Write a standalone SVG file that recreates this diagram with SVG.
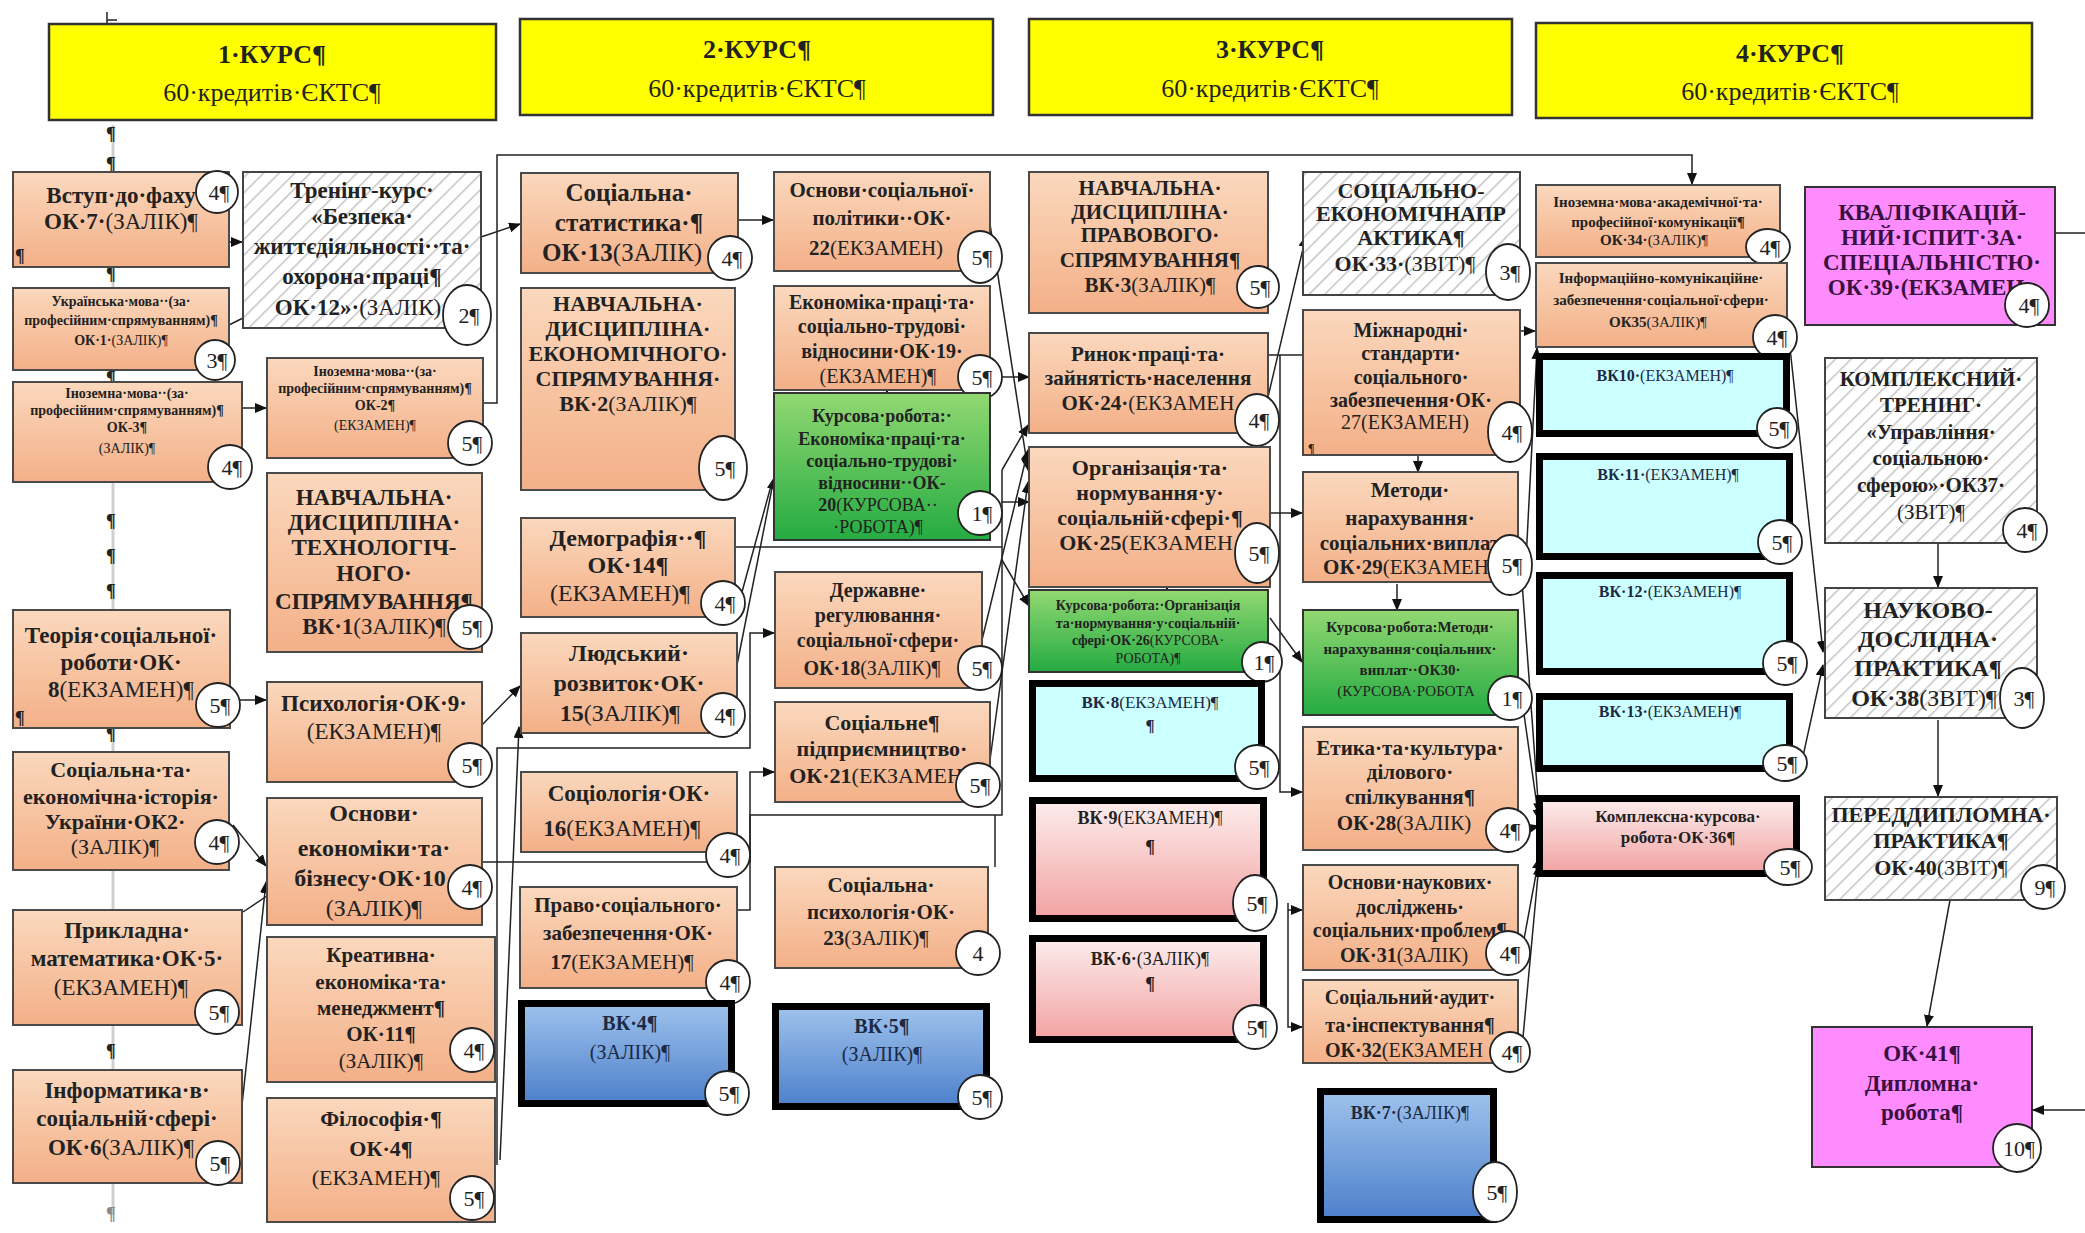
<svg xmlns="http://www.w3.org/2000/svg" width="2085" height="1233" viewBox="0 0 2085 1233">
<defs>
<linearGradient id="gOr" x1="0" y1="0" x2="0" y2="1"><stop offset="0" stop-color="#FBD8BD"/><stop offset="1" stop-color="#F3B088"/></linearGradient>
<linearGradient id="gGr" x1="0" y1="0" x2="0" y2="1"><stop offset="0" stop-color="#92D872"/><stop offset="1" stop-color="#25AB42"/></linearGradient>
<linearGradient id="gPk" x1="0" y1="0" x2="0" y2="1"><stop offset="0" stop-color="#FDEDED"/><stop offset="1" stop-color="#F2A2A2"/></linearGradient>
<linearGradient id="gBl" x1="0" y1="0" x2="0" y2="1"><stop offset="0" stop-color="#9EC2EC"/><stop offset="1" stop-color="#4D80CB"/></linearGradient>
<pattern id="hatch" patternUnits="userSpaceOnUse" width="11" height="11" patternTransform="rotate(45)">
<rect width="11" height="11" fill="#ffffff"/><line x1="0" y1="0" x2="0" y2="11" stroke="#C4C4C4" stroke-width="3"/></pattern>
<marker id="ah" markerUnits="userSpaceOnUse" markerWidth="12" markerHeight="10" refX="11" refY="5" orient="auto"><path d="M0,0 L12,5 L0,10 z" fill="#111"/></marker>
<marker id="ao" markerUnits="userSpaceOnUse" markerWidth="14" markerHeight="12" refX="13" refY="6" orient="auto"><path d="M0,0 L13,6 L0,12" fill="none" stroke="#111" stroke-width="1.5"/></marker>
<style>
text{font-family:"Liberation Serif","Times New Roman",serif;fill:#222}
.b{font-weight:bold;text-anchor:middle}
.m{text-anchor:middle}
.n{font-weight:normal}
.cn{font-size:22px;text-anchor:middle}
.pm{font-size:18px;font-weight:bold}
.hd{fill:#FFFF00;stroke:#333;stroke-width:2.5}
.or{fill:url(#gOr);stroke:#4a4a4a;stroke-width:2}
.ht{fill:url(#hatch);stroke:#444;stroke-width:2}
.gr{fill:url(#gGr);stroke:#333;stroke-width:2}
.cy{fill:#CCFFFF;stroke:#000;stroke-width:7}
.pk{fill:url(#gPk);stroke:#000;stroke-width:7}
.bl{fill:url(#gBl);stroke:#000;stroke-width:7}
.mg{fill:#FF8CFF;stroke:#333;stroke-width:2}
.mt{fill:#3a1040}
.dk{fill:#1d2a44}
.c{fill:#fff;stroke:#222;stroke-width:1.8}
.con{fill:none;stroke:#222;stroke-width:1.5}
.ar{marker-end:url(#ah)}
</style>
</defs>
<rect width="2085" height="1233" fill="#ffffff"/>

<g id="margin">
<line x1="113" y1="125" x2="113" y2="1215" stroke="#cfcfcf" stroke-width="3"/>
<line x1="107" y1="12" x2="107" y2="45" stroke="#222" stroke-width="1.5"/>
<line x1="107" y1="20" x2="117" y2="20" stroke="#222" stroke-width="1.5"/>
<text class="pm" x="106" y="140">¶</text>
<text class="pm" x="106" y="170">¶</text>
<text class="pm" x="106" y="280">¶</text>
<text class="pm" x="106" y="384">¶</text>
<text class="pm" x="106" y="527">¶</text>
<text class="pm" x="106" y="562">¶</text>
<text class="pm" x="106" y="597">¶</text>
<text class="pm" x="106" y="740">¶</text>
<text class="pm" x="106" y="1057">¶</text>
<text class="pm" x="106" y="1220" style="fill:#888">¶</text>
</g>

<g id="headers">
<g id="h1"><rect class="hd" x="49" y="24" width="447" height="96"/><text class="b" x="272" y="63" font-size="26">1·КУРС¶</text><text class="m" x="272" y="101" font-size="26">60·кредитів·ЄКТС¶</text></g>
<g id="h2"><rect class="hd" x="520" y="19" width="473" height="96"/><text class="b" x="757" y="58" font-size="26">2·КУРС¶</text><text class="m" x="757" y="97" font-size="26">60·кредитів·ЄКТС¶</text></g>
<g id="h3"><rect class="hd" x="1029" y="19" width="483" height="96"/><text class="b" x="1270" y="58" font-size="26">3·КУРС¶</text><text class="m" x="1270" y="97" font-size="26">60·кредитів·ЄКТС¶</text></g>
<g id="h4"><rect class="hd" x="1536" y="23" width="496" height="95"/><text class="b" x="1790" y="62" font-size="26">4·КУРС¶</text><text class="m" x="1790" y="100" font-size="26">60·кредитів·ЄКТС¶</text></g>
</g>

<g id="connectors">
<path class="con ar" d="M229 242 H242"/>
<path class="con" d="M229 325 L243 318"/>
<path class="con ar" d="M242 408 H266"/>
<path class="con ar" d="M481 237 L520 224"/>
<path class="con ar" d="M483 403 H497 V155 H1692 V184"/>
<path class="con ar" d="M230 700 H266"/>
<path class="con ar" d="M482 725 L520 686"/>
<path class="con ar" d="M233 825 L266 866"/>
<path class="con" d="M243 912 L276 890" marker-end="url(#ao)"/>
<path class="con ar" d="M242 1105 L266 882"/>
<path class="con ar" d="M497 1165 V748 H750 V633 H774"/>
<path class="con ar" d="M500 1160 L519 727"/>
<path class="con ar" d="M482 862 H750 V772 H774"/>
<path class="con" d="M737 910 H750 V815 H1002 V470"/>
<path class="con ar" d="M1002 470 L1028 425"/>
<path class="con" d="M995 867 V815"/>
<path class="con" d="M728 547 H1002"/>
<path class="con ar" d="M1002 560 L1029 606"/>
<path class="con ar" d="M737 665 L774 478"/>
<path class="con" d="M742 592 L772 482"/>
<path class="con ar" d="M738 220 H773"/>
<path class="con ar" d="M887 380 V393"/>
<path class="con ar" d="M1001 377 H1029"/>
<path class="con ar" d="M990 224 L1028 470"/>
<path class="con ar" d="M1001 502 H1029"/>
<path class="con ar" d="M982 640 L1028 450"/>
<path class="con ar" d="M990 760 L1028 482"/>
<path class="con ar" d="M1268 397 L1306 236"/>
<path class="con" d="M1268 355 H1303"/>
<path class="con ar" d="M1280 355 V792 H1302"/>
<path class="con ar" d="M1270 513 H1302"/>
<path class="con ar" d="M1167 580 V590"/>
<path class="con ar" d="M1270 618 L1302 662"/>
<path class="con ar" d="M1418 455 V472"/>
<path class="con ar" d="M1397 584 V610"/>
<path class="con ar" d="M1288 910 H1302"/>
<path class="con ar" d="M1288 903 V1027 H1302"/>
<path class="con ar" d="M1520 331 H1535"/>
<path class="con ar" d="M1526 560 L1537 348"/>
<path class="con ar" d="M1522 582 L1539 814"/>
<path class="con ar" d="M1522 700 L1539 820"/>
<path class="con ar" d="M1522 830 L1539 826"/>
<path class="con ar" d="M1522 950 L1539 858"/>
<path class="con ar" d="M1522 1048 L1539 864"/>
<path class="con ar" d="M1790 348 L1823 652"/>
<path class="con ar" d="M1800 770 L1823 665"/>
<path class="con ar" d="M1938 543 V587"/>
<path class="con ar" d="M1938 720 V796"/>
<path class="con ar" d="M1950 900 L1927 1026"/>
<path class="con ar" d="M2055 233 H2095 V1110 H2033"/>
</g>

<g id="n01"><rect class="or" x="13" y="172" width="216" height="95"/><text class="b" font-size="23"><tspan x="121" y="203">Вступ·до·фаху</tspan><tspan x="121" y="229">ОК·7·<tspan class="n">(ЗАЛІК)¶</tspan></tspan></text><text class="pm" x="15" y="262">¶</text><circle class="c" cx="217" cy="192" r="21"/><text class="cn" x="219" y="200">4¶</text></g>

<g id="n02"><rect class="ht" x="243" y="172" width="238" height="156"/><text class="b" font-size="23"><tspan x="362" y="198">Тренінг-курс·</tspan><tspan x="362" y="224">«Безпека·</tspan><tspan x="362" y="254">життєдіяльності··та·</tspan><tspan x="362" y="284">охорона·праці¶</tspan><tspan x="358" y="315">ОК·12»·<tspan class="n">(ЗАЛІК)</tspan></tspan></text><ellipse class="c" cx="467" cy="315" rx="24" ry="30"/><text class="cn" x="469" y="323">2¶</text></g>

<g id="n03"><rect class="or" x="13" y="288" width="216" height="82"/><text class="b" font-size="14"><tspan x="121" y="306">Українська·мова··(за·</tspan><tspan x="121" y="325">професійним·спрямуванням)¶</tspan><tspan x="121" y="345">ОК·1·<tspan class="n">(ЗАЛІК)¶</tspan></tspan></text><circle class="c" cx="215" cy="360" r="20"/><text class="cn" x="217" y="368">3¶</text></g>

<g id="n04"><rect class="or" x="13" y="382" width="229" height="100"/><text class="b" font-size="14"><tspan x="127" y="398">Іноземна·мова··(за·</tspan><tspan x="127" y="415">професійним·спрямуванням)¶</tspan><tspan x="127" y="432">ОК-3¶</tspan><tspan class="n" x="127" y="453">(ЗАЛІК)¶</tspan></text><circle class="c" cx="230" cy="467" r="22"/><text class="cn" x="232" y="475">4¶</text></g>

<g id="n05"><rect class="or" x="267" y="358" width="216" height="100"/><text class="b" font-size="14"><tspan x="375" y="376">Іноземна·мова··(за·</tspan><tspan x="375" y="393">професійним·спрямуванням)¶</tspan><tspan x="375" y="410">ОК-2¶</tspan><tspan class="n" x="375" y="430">(ЕКЗАМЕН)¶</tspan></text><circle class="c" cx="470" cy="443" r="22"/><text class="cn" x="472" y="451">5¶</text></g>

<g id="n06"><rect class="or" x="267" y="473" width="215" height="179"/><text class="b" font-size="23"><tspan x="374" y="505">НАВЧАЛЬНА·</tspan><tspan x="374" y="530">ДИСЦИПЛІНА·</tspan><tspan x="374" y="555">ТЕХНОЛОГІЧ-</tspan><tspan x="374" y="581">НОГО·</tspan><tspan x="374" y="609">СПРЯМУВАННЯ¶</tspan><tspan x="374" y="634">ВК·1<tspan class="n">(ЗАЛІК)¶</tspan></tspan></text><circle class="c" cx="470" cy="627" r="22"/><text class="cn" x="472" y="635">5¶</text></g>

<g id="n07"><rect class="or" x="13" y="610" width="217" height="118"/><text class="b" font-size="23"><tspan x="121" y="643">Теорія·соціальної·</tspan><tspan x="121" y="670">роботи·ОК·</tspan><tspan x="121" y="697">8<tspan class="n">(ЕКЗАМЕН)¶</tspan></tspan></text><text class="pm" x="15" y="724" font-size="14">¶</text><circle class="c" cx="218" cy="705" r="22"/><text class="cn" x="220" y="713">5¶</text></g>

<g id="n08"><rect class="or" x="267" y="682" width="215" height="100"/><text class="b" font-size="23"><tspan x="374" y="711">Психологія·ОК·9·</tspan><tspan class="n" x="374" y="739">(ЕКЗАМЕН)¶</tspan></text><circle class="c" cx="470" cy="765" r="22"/><text class="cn" x="472" y="773">5¶</text></g>

<g id="n09"><rect class="or" x="13" y="752" width="216" height="118"/><text class="b" font-size="22"><tspan x="121" y="777">Соціальна·та·</tspan><tspan x="121" y="804">економічна·історія·</tspan><tspan x="115" y="829">України·ОК2·</tspan><tspan class="n" x="115" y="854">(ЗАЛІК)¶</tspan></text><circle class="c" cx="217" cy="842" r="22"/><text class="cn" x="219" y="850">4¶</text></g>

<g id="n10"><rect class="or" x="267" y="798" width="215" height="127"/><text class="b" font-size="24"><tspan x="374" y="821">Основи·</tspan><tspan x="374" y="856">економіки·та·</tspan><tspan x="370" y="886">бізнесу·ОК·10</tspan><tspan class="n" x="374" y="916">(ЗАЛІК)¶</tspan></text><circle class="c" cx="470" cy="887" r="22"/><text class="cn" x="472" y="895">4¶</text></g>

<g id="n11"><rect class="or" x="13" y="910" width="229" height="115"/><text class="b" font-size="23"><tspan x="127" y="938">Прикладна·</tspan><tspan x="127" y="966">математика·ОК·5·</tspan><tspan class="n" x="121" y="995">(ЕКЗАМЕН)¶</tspan></text><circle class="c" cx="217" cy="1012" r="22"/><text class="cn" x="219" y="1020">5¶</text></g>

<g id="n12"><rect class="or" x="13" y="1070" width="229" height="113"/><text class="b" font-size="23"><tspan x="127" y="1098">Інформатика·в·</tspan><tspan x="127" y="1126">соціальній·сфері·</tspan><tspan x="121" y="1155">ОК·6<tspan class="n">(ЗАЛІК)¶</tspan></tspan></text><circle class="c" cx="218" cy="1163" r="22"/><text class="cn" x="220" y="1171">5¶</text></g>

<g id="n13"><rect class="or" x="267" y="937" width="228" height="145"/><text class="b" font-size="21"><tspan x="381" y="962">Креативна·</tspan><tspan x="381" y="989">економіка·та·</tspan><tspan x="381" y="1015">менеджмент¶</tspan><tspan x="381" y="1041">ОК·11¶</tspan><tspan class="n" x="381" y="1068">(ЗАЛІК)¶</tspan></text><circle class="c" cx="472" cy="1050" r="22"/><text class="cn" x="474" y="1058">4¶</text></g>

<g id="n14"><rect class="or" x="267" y="1098" width="228" height="124"/><text class="b" font-size="22"><tspan x="381" y="1126">Філософія·¶</tspan><tspan x="381" y="1156">ОК·4¶</tspan><tspan class="n" x="376" y="1185">(ЕКЗАМЕН)¶</tspan></text><circle class="c" cx="472" cy="1198" r="22"/><text class="cn" x="474" y="1206">5¶</text></g>

<g id="n15"><rect class="or" x="521" y="173" width="217" height="100"/><text class="b" font-size="25"><tspan x="629" y="201">Соціальна·</tspan><tspan x="629" y="231">статистика·¶</tspan><tspan x="622" y="261">ОК·13<tspan class="n">(ЗАЛІК)</tspan></tspan></text><circle class="c" cx="730" cy="258" r="22"/><text class="cn" x="732" y="266">4¶</text></g>

<g id="n16"><rect class="or" x="774" y="172" width="216" height="99"/><text class="b" font-size="21"><tspan x="882" y="197">Основи·соціальної·</tspan><tspan x="882" y="225">політики··ОК·</tspan><tspan x="876" y="255">22<tspan class="n">(ЕКЗАМЕН)</tspan></tspan></text><ellipse class="c" cx="980" cy="257" rx="22" ry="26"/><text class="cn" x="982" y="265">5¶</text></g>

<g id="n17"><rect class="or" x="521" y="288" width="214" height="202"/><text class="b" font-size="22"><tspan x="628" y="311">НАВЧАЛЬНА·</tspan><tspan x="628" y="336">ДИСЦИПЛІНА·</tspan><tspan x="628" y="361">ЕКОНОМІЧНОГО·</tspan><tspan x="628" y="386">СПРЯМУВАННЯ·</tspan><tspan x="628" y="411">ВК·2<tspan class="n">(ЗАЛІК)¶</tspan></tspan></text><ellipse class="c" cx="723" cy="468" rx="24" ry="32"/><text class="cn" x="725" y="476">5¶</text></g>

<g id="n18"><rect class="or" x="774" y="286" width="216" height="104"/><text class="b" font-size="20"><tspan x="882" y="309">Економіка·праці·та·</tspan><tspan x="882" y="333">соціально-трудові·</tspan><tspan x="882" y="358">відносини·ОК·19·</tspan><tspan class="n" x="878" y="383">(ЕКЗАМЕН)¶</tspan></text><circle class="c" cx="980" cy="377" r="22"/><text class="cn" x="982" y="385">5¶</text></g>

<g id="n19"><rect class="gr" x="774" y="393" width="216" height="147"/><text class="b" font-size="18"><tspan x="882" y="422">Курсова·робота:·</tspan><tspan x="882" y="445">Економіка·праці·та·</tspan><tspan x="882" y="467">соціально-трудові·</tspan><tspan x="882" y="489">відносини··ОК-</tspan><tspan x="878" y="511">20<tspan class="n">(КУРСОВА··</tspan></tspan><tspan class="n" x="878" y="533">·РОБОТА)¶</tspan></text><circle class="c" cx="980" cy="513" r="22"/><text class="cn" x="982" y="521">1¶</text></g>

<g id="n20"><rect class="or" x="521" y="518" width="214" height="99"/><text class="b" font-size="24"><tspan x="628" y="546">Демографія··¶</tspan><tspan x="628" y="573">ОК·14¶</tspan><tspan class="n" x="620" y="601">(ЕКЗАМЕН)¶</tspan></text><circle class="c" cx="723" cy="603" r="22"/><text class="cn" x="725" y="611">4¶</text></g>

<g id="n21"><rect class="or" x="775" y="572" width="207" height="116"/><text class="b" font-size="20"><tspan x="878" y="597">Державне·</tspan><tspan x="878" y="622">регулювання·</tspan><tspan x="878" y="647">соціальної·сфери·</tspan><tspan x="872" y="675">ОК·18<tspan class="n">(ЗАЛІК)¶</tspan></tspan></text><circle class="c" cx="980" cy="668" r="22"/><text class="cn" x="982" y="676">5¶</text></g>

<g id="n22"><rect class="or" x="521" y="633" width="216" height="100"/><text class="b" font-size="24"><tspan x="629" y="661">Людський·</tspan><tspan x="629" y="691">розвиток·ОК·</tspan><tspan x="620" y="721">15<tspan class="n">(ЗАЛІК)¶</tspan></tspan></text><circle class="c" cx="723" cy="715" r="22"/><text class="cn" x="725" y="723">4¶</text></g>

<g id="n23"><rect class="or" x="775" y="702" width="215" height="100"/><text class="b" font-size="22"><tspan x="882" y="730">Соціальне¶</tspan><tspan x="882" y="756">підприємництво·</tspan><tspan x="876" y="783">ОК·21<tspan class="n">(ЕКЗАМЕН</tspan></tspan></text><circle class="c" cx="978" cy="785" r="22"/><text class="cn" x="980" y="793">5¶</text></g>

<g id="n24"><rect class="or" x="521" y="772" width="216" height="80"/><text class="b" font-size="23"><tspan x="629" y="801">Соціологія·ОК·</tspan><tspan x="622" y="836">16<tspan class="n">(ЕКЗАМЕН)¶</tspan></tspan></text><circle class="c" cx="728" cy="855" r="22"/><text class="cn" x="730" y="863">4¶</text></g>

<g id="n25"><rect class="or" x="520" y="887" width="217" height="101"/><text class="b" font-size="21"><tspan x="628" y="912">Право·соціального·</tspan><tspan x="628" y="940">забезпечення·ОК·</tspan><tspan x="622" y="969">17<tspan class="n">(ЕКЗАМЕН)¶</tspan></tspan></text><circle class="c" cx="728" cy="982" r="22"/><text class="cn" x="730" y="990">4¶</text></g>

<g id="n26"><rect class="or" x="775" y="867" width="213" height="101"/><text class="b" font-size="21"><tspan x="881" y="892">Соціальна·</tspan><tspan x="881" y="919">психологія·ОК·</tspan><tspan x="876" y="945">23<tspan class="n">(ЗАЛІК)¶</tspan></tspan></text><circle class="c" cx="978" cy="953" r="22"/><text class="cn" x="978" y="961">4</text></g>

<g id="n27"><rect class="bl" x="521.5" y="1003.5" width="210" height="100"/><text class="b dk" font-size="20"><tspan x="630" y="1030">ВК·4¶</tspan><tspan class="n" x="630" y="1059">(ЗАЛІК)¶</tspan></text><circle class="c" cx="727" cy="1093" r="22"/><text class="cn" x="729" y="1101">5¶</text></g>

<g id="n28"><rect class="bl" x="775.5" y="1006.5" width="211" height="100"/><text class="b dk" font-size="20"><tspan x="882" y="1033">ВК·5¶</tspan><tspan class="n" x="882" y="1061">(ЗАЛІК)¶</tspan></text><circle class="c" cx="980" cy="1097" r="22"/><text class="cn" x="982" y="1105">5¶</text></g>

<g id="n29"><rect class="or" x="1029" y="172" width="239" height="141"/><text class="b" font-size="21"><tspan x="1150" y="195">НАВЧАЛЬНА·</tspan><tspan x="1150" y="219">ДИСЦИПЛІНА·</tspan><tspan x="1150" y="242">ПРАВОВОГО·</tspan><tspan x="1150" y="267">СПРЯМУВАННЯ¶</tspan><tspan x="1150" y="292">ВК·3<tspan class="n">(ЗАЛІК)¶</tspan></tspan></text><circle class="c" cx="1258" cy="287" r="21"/><text class="cn" x="1260" y="295">5¶</text></g>

<g id="n30"><rect class="ht" x="1303" y="172" width="217" height="123"/><text class="b" font-size="22"><tspan x="1411" y="198">СОЦІАЛЬНО-</tspan><tspan x="1411" y="221">ЕКОНОМІЧНАПР</tspan><tspan x="1411" y="245">АКТИКА¶</tspan><tspan x="1405" y="271">ОК·33·<tspan class="n">(ЗВІТ)¶</tspan></tspan></text><ellipse class="c" cx="1508" cy="272" rx="22" ry="28"/><text class="cn" x="1510" y="280">3¶</text></g>

<g id="n31"><rect class="or" x="1029" y="333" width="239" height="100"/><text class="b" font-size="21"><tspan x="1148" y="361">Ринок·праці·та·</tspan><tspan x="1148" y="385">зайнятість·населення</tspan><tspan x="1148" y="410">ОК·24·<tspan class="n">(ЕКЗАМЕН</tspan></tspan></text><ellipse class="c" cx="1257" cy="420" rx="22" ry="26"/><text class="cn" x="1259" y="428">4¶</text></g>

<g id="n32"><rect class="or" x="1303" y="310" width="217" height="145"/><text class="b" font-size="20"><tspan x="1411" y="337">Міжнародні·</tspan><tspan x="1411" y="360">стандарти·</tspan><tspan x="1411" y="384">соціального·</tspan><tspan x="1411" y="407">забезпечення·ОК·</tspan><tspan class="n" x="1405" y="429">27(ЕКЗАМЕН)</tspan></text><text x="1308" y="452" font-size="12" font-weight="bold">¶</text><ellipse class="c" cx="1510" cy="432" rx="22" ry="30"/><text class="cn" x="1512" y="440">4¶</text></g>

<g id="n33"><rect class="or" x="1029" y="447" width="241" height="140"/><text class="b" font-size="22"><tspan x="1150" y="475">Організація·та·</tspan><tspan x="1150" y="500">нормування·у·</tspan><tspan x="1150" y="525">соціальній·сфері·¶</tspan><tspan x="1146" y="550">ОК·25<tspan class="n">(ЕКЗАМЕН</tspan></tspan></text><ellipse class="c" cx="1257" cy="553" rx="22" ry="30"/><text class="cn" x="1259" y="561">5¶</text></g>

<g id="n34"><rect class="gr" x="1029" y="590" width="239" height="82"/><text class="b" font-size="14"><tspan x="1148" y="610">Курсова·робота:·Організація</tspan><tspan x="1148" y="628">та·нормування·у·соціальній·</tspan><tspan x="1148" y="645">сфері·ОК·26<tspan class="n">(КУРСОВА·</tspan></tspan><tspan class="n" x="1148" y="663">РОБОТА)¶</tspan></text><circle class="c" cx="1262" cy="662" r="20"/><text class="cn" x="1264" y="670">1¶</text></g>

<g id="n35"><rect class="or" x="1303" y="472" width="215" height="110"/><text class="b" font-size="21"><tspan x="1410" y="497">Методи·</tspan><tspan x="1410" y="525">нарахування·</tspan><tspan x="1410" y="550">соціальних·виплат</tspan><tspan x="1406" y="574">ОК·29<tspan class="n">(ЕКЗАМЕН</tspan></tspan></text><ellipse class="c" cx="1510" cy="565" rx="22" ry="30"/><text class="cn" x="1512" y="573">5¶</text></g>

<g id="n36"><rect class="gr" x="1303" y="610" width="215" height="105"/><text class="b" font-size="15"><tspan x="1410" y="632">Курсова·робота:Методи·</tspan><tspan x="1410" y="654">нарахування·соціальних·</tspan><tspan x="1410" y="675">виплат··ОК30·</tspan><tspan class="n" x="1406" y="696">(КУРСОВА·РОБОТА</tspan></text><circle class="c" cx="1510" cy="698" r="22"/><text class="cn" x="1512" y="706">1¶</text></g>

<g id="n37"><rect class="cy" x="1032.5" y="683.5" width="229" height="95"/><text class="b dk" font-size="17"><tspan x="1150" y="708">ВК·8<tspan class="n">(ЕКЗАМЕН)¶</tspan></tspan><tspan x="1150" y="731">¶</tspan></text><circle class="c" cx="1257" cy="767" r="22"/><text class="cn" x="1259" y="775">5¶</text></g>

<g id="n38"><rect class="or" x="1303" y="727" width="215" height="123"/><text class="b" font-size="21"><tspan x="1410" y="755">Етика·та·культура·</tspan><tspan x="1410" y="779">ділового·</tspan><tspan x="1410" y="804">спілкування¶</tspan><tspan x="1404" y="830">ОК·28<tspan class="n">(ЗАЛІК)</tspan></tspan></text><circle class="c" cx="1508" cy="830" r="22"/><text class="cn" x="1510" y="838">4¶</text></g>

<g id="n39"><rect class="pk" x="1032.5" y="800.5" width="231" height="118"/><text class="b" font-size="18"><tspan x="1150" y="824">ВК·9<tspan class="n">(ЕКЗАМЕН)¶</tspan></tspan><tspan x="1150" y="853">¶</tspan></text><ellipse class="c" cx="1255" cy="903" rx="22" ry="28"/><text class="cn" x="1257" y="911">5¶</text></g>

<g id="n40"><rect class="pk" x="1032.5" y="938.5" width="231" height="101"/><text class="b" font-size="18"><tspan x="1150" y="965">ВК·6·<tspan class="n">(ЗАЛІК)¶</tspan></tspan><tspan x="1150" y="990">¶</tspan></text><circle class="c" cx="1255" cy="1027" r="22"/><text class="cn" x="1257" y="1035">5¶</text></g>

<g id="n41"><rect class="or" x="1303" y="865" width="215" height="105"/><text class="b" font-size="20"><tspan x="1410" y="889">Основи·наукових·</tspan><tspan x="1410" y="914">досліджень·</tspan><tspan x="1410" y="937">соціальних·проблем¶</tspan><tspan x="1404" y="962">ОК·31<tspan class="n">(ЗАЛІК)</tspan></tspan></text><circle class="c" cx="1508" cy="953" r="22"/><text class="cn" x="1510" y="961">4¶</text></g>

<g id="n42"><rect class="or" x="1303" y="980" width="215" height="83"/><text class="b" font-size="20"><tspan x="1410" y="1004">Соціальний·аудит·</tspan><tspan x="1410" y="1032">та·інспектування¶</tspan><tspan x="1404" y="1057">ОК·32<tspan class="n">(ЕКЗАМЕН</tspan></tspan></text><circle class="c" cx="1510" cy="1052" r="20"/><text class="cn" x="1512" y="1060">4¶</text></g>

<g id="n43"><rect class="bl" x="1320.5" y="1091.5" width="173" height="128"/><text class="b dk" font-size="18"><tspan x="1410" y="1119">ВК·7·<tspan class="n">(ЗАЛІК)¶</tspan></tspan></text><ellipse class="c" cx="1495" cy="1192" rx="22" ry="30"/><text class="cn" x="1497" y="1200">5¶</text></g>

<g id="n44"><rect class="or" x="1536" y="185" width="244" height="72"/><text class="b" font-size="15"><tspan x="1658" y="207">Іноземна·мова·академічної·та·</tspan><tspan x="1658" y="227">професійної·комунікації¶</tspan><tspan x="1654" y="245">ОК·34·<tspan class="n">(ЗАЛІК)¶</tspan></tspan></text><ellipse class="c" cx="1768" cy="247" rx="22" ry="18"/><text class="cn" x="1770" y="255">4¶</text></g>

<g id="n45"><rect class="or" x="1536" y="263" width="251" height="84"/><text class="b" font-size="15"><tspan x="1661" y="283">Інформаційно-комунікаційне·</tspan><tspan x="1661" y="305">забезпечення·соціальної·сфери·</tspan><tspan x="1658" y="327">ОК35<tspan class="n">(ЗАЛІК)¶</tspan></tspan></text><circle class="c" cx="1775" cy="337" r="22"/><text class="cn" x="1777" y="345">4¶</text></g>

<g id="n46"><rect class="cy" x="1539.5" y="356.5" width="247" height="77"/><text class="b dk" font-size="16" x="1665" y="381">ВК10·<tspan class="n">(ЕКЗАМЕН)¶</tspan></text><circle class="c" cx="1777" cy="428" r="20"/><text class="cn" x="1779" y="436">5¶</text></g>

<g id="n47"><rect class="cy" x="1539.5" y="456.5" width="250" height="100"/><text class="b dk" font-size="16" x="1668" y="480">ВК·11·<tspan class="n">(ЕКЗАМЕН)¶</tspan></text><circle class="c" cx="1780" cy="542" r="22"/><text class="cn" x="1782" y="550">5¶</text></g>

<g id="n48"><rect class="cy" x="1539.5" y="575.5" width="250" height="96"/><text class="b dk" font-size="16" x="1670" y="597">ВК·12·<tspan class="n">(ЕКЗАМЕН)¶</tspan></text><circle class="c" cx="1785" cy="663" r="22"/><text class="cn" x="1787" y="671">5¶</text></g>

<g id="n49"><rect class="cy" x="1539.5" y="696.5" width="250" height="72"/><text class="b dk" font-size="16" x="1670" y="717">ВК·13·<tspan class="n">(ЕКЗАМЕН)¶</tspan></text><ellipse class="c" cx="1785" cy="763" rx="22" ry="18"/><text class="cn" x="1787" y="771">5¶</text></g>

<g id="n50"><rect class="pk" x="1539.5" y="798.5" width="257" height="75"/><text class="b" font-size="17"><tspan x="1678" y="822">Комплексна·курсова·</tspan><tspan x="1678" y="843">робота·ОК·36¶</tspan></text><ellipse class="c" cx="1788" cy="867" rx="24" ry="18"/><text class="cn" x="1790" y="875">5¶</text></g>

<g id="n51"><rect class="mg" x="1805" y="187" width="250" height="138"/><text class="b mt" font-size="23"><tspan x="1932" y="220">КВАЛІФІКАЦІЙ-</tspan><tspan x="1932" y="245">НИЙ·ІСПИТ·ЗА·</tspan><tspan x="1932" y="270">СПЕЦІАЛЬНІСТЮ·</tspan><tspan x="1926" y="295">ОК·39·(ЕКЗАМЕН</tspan></text><circle class="c" cx="2027" cy="305" r="22"/><text class="cn" x="2029" y="313">4¶</text></g>

<g id="n52"><rect class="ht" x="1825" y="358" width="212" height="185"/><text class="b" font-size="21"><tspan x="1931" y="386">КОМПЛЕКСНИЙ·</tspan><tspan x="1931" y="412">ТРЕНІНГ·</tspan><tspan x="1931" y="439">«Управління·</tspan><tspan x="1931" y="465">соціальною·</tspan><tspan x="1931" y="492">сферою»·ОК37·</tspan><tspan class="n" x="1931" y="519">(ЗВІТ)¶</tspan></text><circle class="c" cx="2025" cy="530" r="22"/><text class="cn" x="2027" y="538">4¶</text></g>

<g id="n53"><rect class="ht" x="1825" y="588" width="212" height="130"/><text class="b" font-size="24"><tspan x="1928" y="618">НАУКОВО-</tspan><tspan x="1928" y="647">ДОСЛІДНА·</tspan><tspan x="1928" y="676">ПРАКТИКА¶</tspan><tspan x="1924" y="706">ОК·38<tspan class="n">(ЗВІТ)¶</tspan></tspan></text><ellipse class="c" cx="2022" cy="698" rx="22" ry="30"/><text class="cn" x="2024" y="706">3¶</text></g>

<g id="n54"><rect class="ht" x="1825" y="797" width="232" height="103"/><text class="b" font-size="22"><tspan x="1941" y="822">ПЕРЕДДИПЛОМНА·</tspan><tspan x="1941" y="848">ПРАКТИКА¶</tspan><tspan x="1941" y="875">ОК·40<tspan class="n">(ЗВІТ)¶</tspan></tspan></text><circle class="c" cx="2043" cy="887" r="22"/><text class="cn" x="2045" y="895">9¶</text></g>

<g id="n55"><rect class="mg" x="1812" y="1027" width="220" height="140"/><text class="b mt" font-size="23"><tspan x="1922" y="1061">ОК·41¶</tspan><tspan x="1922" y="1091">Дипломна·</tspan><tspan x="1922" y="1120">робота¶</tspan></text><circle class="c" cx="2017" cy="1148" r="24"/><text class="cn" x="2019" y="1156">10¶</text></g>
</svg>
